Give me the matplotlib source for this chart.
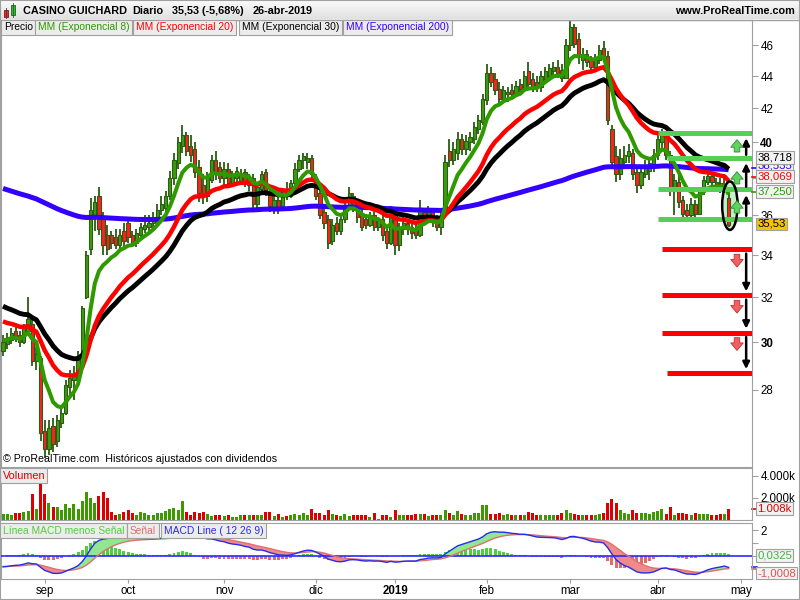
import numpy as np
import pandas as pd
import matplotlib
matplotlib.use('Agg')
import matplotlib.pyplot as plt
from matplotlib.patches import Ellipse, Rectangle
from matplotlib.transforms import blended_transform_factory
from matplotlib.ticker import NullLocator

plt.rcParams['font.family'] = ['Liberation Sans', 'DejaVu Sans']

# daily OHLC, Casino Guichard, 20-aug-2018 .. 26-apr-2019
opens = [29.6, 29.9, 30.1, 30.5, 30.3, 30.0, 30.5, 30.8, 29.2, 29.3,
         26.4, 25.7, 26.6, 26.0, 26.7, 27.1, 28.1, 28.4, 28.6, 29.4,
         32.0, 34.3, 35.9, 37.0, 35.8, 35.0, 35.0, 34.9, 34.5, 35.2,
         35.6, 35.0, 34.6, 35.0, 35.3, 35.4, 35.6, 35.8, 36.3, 36.4,
         37.0, 38.0, 38.8, 39.8, 40.4, 39.8, 39.6, 38.6, 37.6, 37.0,
         37.9, 39.0, 38.6, 38.0, 38.5, 37.7, 38.0, 37.8, 38.3, 37.6,
         38.0, 36.6, 37.4, 38.3, 37.2, 36.4, 36.8, 36.5, 37.3, 37.0,
         37.7, 38.5, 39.0, 38.9, 39.1, 38.0, 37.2, 36.2, 35.8, 34.7,
         35.6, 35.2, 35.8, 36.5, 37.0, 36.4, 36.0, 35.8, 35.5, 36.0,
         35.4, 35.8, 35.2, 34.6, 36.0, 34.5, 35.3, 35.6, 35.4, 35.3,
         35.0, 36.2, 35.8, 36.2, 35.8, 35.4, 36.2, 39.5, 39.0, 39.4,
         40.2, 39.6, 40.0, 40.2, 40.8, 41.2, 42.5, 44.2, 43.8, 43.2,
         42.6, 42.9, 43.1, 42.9, 43.5, 43.2, 44.3, 43.8, 43.6, 43.3,
         43.8, 44.0, 44.3, 44.6, 44.4, 43.9, 46.0, 47.2, 46.4, 45.0,
         45.4, 45.0, 44.6, 45.0, 45.8, 45.3, 40.8, 39.2, 38.2, 38.9,
         39.2, 39.4, 38.3, 37.6, 38.2, 38.4, 38.7, 39.3, 40.0, 40.3,
         39.3, 37.3, 37.8, 36.8, 36.3, 36.0, 36.6, 36.1, 37.3, 37.8,
         38.1, 37.8, 37.7, 37.4, 36.9]
highs = [30.3, 30.4, 30.6, 30.8, 30.5, 30.8, 32.0, 31.0, 29.8, 29.4,
         26.8, 26.8, 26.9, 27.0, 27.3, 28.4, 28.8, 29.0, 29.6, 31.6,
         34.2, 36.9, 37.0, 37.5, 36.2, 35.5, 35.2, 35.3, 35.3, 35.6,
         35.9, 35.2, 35.3, 35.6, 36.0, 36.0, 36.2, 36.6, 37.0, 37.3,
         38.4, 39.4, 40.3, 41.0, 40.6, 40.4, 40.0, 39.0, 38.2, 38.3,
         39.3, 39.5, 38.9, 38.9, 38.8, 38.4, 38.6, 38.5, 38.5, 38.2,
         38.2, 37.8, 38.4, 38.5, 37.4, 37.0, 37.0, 37.4, 37.8, 37.9,
         38.8, 39.3, 39.4, 39.4, 39.3, 38.2, 37.4, 36.5, 36.0, 35.8,
         35.9, 36.0, 36.8, 37.5, 37.2, 36.8, 36.3, 36.1, 36.2, 36.2,
         35.9, 36.0, 35.4, 36.5, 36.2, 35.6, 35.9, 35.8, 35.6, 35.5,
         36.8, 36.4, 36.5, 36.4, 36.0, 36.2, 39.3, 40.2, 40.0, 40.6,
         40.5, 40.4, 40.6, 41.2, 41.6, 42.9, 44.8, 44.6, 44.2, 43.6,
         43.4, 43.3, 43.5, 43.7, 43.8, 44.3, 44.9, 44.2, 44.0, 44.3,
         44.6, 44.8, 44.9, 45.0, 44.8, 46.4, 47.6, 47.4, 46.8, 45.8,
         45.7, 45.3, 45.4, 46.0, 46.3, 45.6, 41.0, 39.8, 39.6, 39.8,
         39.9, 39.6, 38.6, 38.6, 39.0, 39.0, 39.6, 40.6, 40.8, 40.5,
         39.5, 38.2, 38.2, 37.0, 36.6, 36.9, 36.8, 37.5, 38.1, 38.4,
         38.3, 38.0, 38.0, 38.2, 37.2]
lows = [29.4, 29.7, 29.9, 30.0, 29.8, 29.9, 30.4, 29.0, 28.8, 26.0,
        25.4, 25.5, 25.6, 25.8, 26.5, 27.0, 27.8, 27.6, 28.4, 29.3,
        31.9, 34.0, 35.2, 35.0, 34.0, 34.0, 34.3, 34.3, 34.2, 34.4,
        34.6, 34.4, 34.4, 34.8, 35.1, 35.2, 35.3, 35.6, 36.0, 35.8,
        36.8, 37.6, 38.5, 39.4, 39.2, 38.9, 38.0, 36.7, 36.6, 36.7,
        37.7, 37.9, 37.7, 37.6, 37.5, 37.5, 37.8, 37.6, 37.5, 37.3,
        36.3, 36.4, 37.2, 37.0, 36.2, 36.1, 36.1, 36.3, 36.8, 36.9,
        37.5, 38.3, 38.5, 38.5, 37.8, 36.8, 35.8, 35.3, 34.3, 34.5,
        35.0, 35.0, 35.6, 36.3, 36.2, 35.6, 35.2, 35.3, 35.4, 35.2,
        35.2, 34.7, 34.3, 34.5, 34.0, 34.2, 35.0, 35.0, 34.8, 34.8,
        34.9, 35.5, 35.6, 35.4, 35.2, 35.0, 36.0, 38.6, 38.7, 39.0,
        39.3, 39.3, 39.5, 39.9, 40.5, 41.0, 42.2, 43.3, 42.8, 42.2,
        42.3, 42.4, 42.6, 42.7, 42.9, 43.0, 43.2, 43.0, 43.0, 43.0,
        43.6, 43.8, 43.9, 43.9, 43.6, 43.8, 45.6, 45.8, 44.8, 44.4,
        44.6, 44.3, 44.3, 44.8, 44.9, 41.0, 38.6, 37.8, 37.9, 38.5,
        38.8, 37.9, 37.2, 37.4, 38.0, 37.9, 38.3, 39.0, 39.6, 39.0,
        37.0, 36.0, 36.4, 35.9, 35.8, 35.8, 35.8, 36.0, 37.1, 37.6,
        37.5, 37.3, 37.2, 37.2, 35.4]
closes = [30.0, 30.2, 30.4, 30.2, 30.0, 30.6, 31.0, 29.2, 29.5, 26.3,
          25.7, 26.5, 25.9, 26.8, 27.1, 28.2, 28.5, 28.6, 29.4, 31.5,
          34.0, 36.3, 36.7, 35.3, 34.5, 34.3, 34.6, 34.5, 35.0, 34.7,
          34.9, 34.6, 35.1, 35.4, 35.5, 35.6, 35.9, 36.3, 36.6, 37.0,
          38.0, 39.0, 40.0, 40.4, 39.5, 39.3, 38.3, 37.2, 37.0, 38.0,
          39.0, 38.3, 38.0, 38.5, 37.7, 38.1, 38.4, 38.2, 37.7, 38.0,
          36.6, 37.5, 38.2, 37.2, 36.5, 36.8, 36.4, 37.1, 37.0, 37.7,
          38.5, 39.0, 39.2, 39.1, 38.2, 37.0, 36.0, 35.6, 34.6, 35.5,
          35.2, 35.8, 36.5, 37.2, 36.4, 35.9, 35.4, 35.5, 36.0, 35.4,
          35.7, 35.0, 34.6, 36.1, 34.5, 35.3, 35.6, 35.3, 35.1, 35.0,
          36.4, 35.8, 36.2, 35.7, 35.4, 35.9, 38.9, 39.0, 39.6, 40.2,
          39.6, 40.1, 40.3, 40.9, 41.3, 42.6, 44.2, 43.6, 43.1, 42.6,
          43.1, 43.0, 42.9, 43.4, 43.2, 44.0, 43.5, 43.3, 43.3, 44.0,
          44.3, 44.5, 44.6, 44.2, 43.9, 46.0, 47.2, 46.1, 45.2, 45.4,
          44.9, 44.6, 45.1, 45.7, 45.3, 41.3, 38.9, 38.2, 39.1, 39.3,
          39.5, 38.2, 37.6, 38.3, 38.7, 38.8, 39.3, 40.2, 40.4, 39.3,
          37.4, 37.9, 36.7, 36.1, 36.0, 36.6, 36.1, 37.3, 37.9, 38.1,
          37.8, 37.6, 37.5, 37.67, 35.53]
volumes = [550, 550, 460, 640, 600, 760, 820, 2370, 1000, 3340,
           2370, 1550, 1210, 1210, 880, 1460, 1120, 1460, 1000, 1730,
           2520, 2000, 1550, 2180, 2520, 2000, 730, 460, 550, 730,
           880, 640, 460, 730, 640, 460, 430, 640, 640, 820,
           1000, 1090, 910, 1730, 730, 430, 730, 640, 730, 550,
           360, 430, 430, 360, 460, 250, 250, 430, 430, 430,
           430, 430, 430, 730, 730, 360, 550, 250, 360, 430,
           550, 430, 640, 430, 1000, 640, 640, 430, 880, 550,
           460, 360, 550, 360, 430, 430, 430, 460, 250, 640,
           120, 430, 430, 250, 880, 430, 430, 430, 430, 520,
           520, 520, 330, 430, 430, 430, 910, 670, 430, 820,
           520, 430, 430, 610, 670, 1340, 1400, 520, 520, 610,
           430, 520, 430, 430, 430, 430, 760, 670, 430, 430,
           430, 430, 430, 430, 670, 910, 670, 520, 430, 430,
           430, 430, 430, 520, 670, 1580, 1880, 1520, 910, 670,
           520, 910, 610, 670, 670, 520, 760, 820, 1000, 520,
           1210, 430, 610, 670, 520, 430, 670, 520, 520, 520,
           430, 430, 520, 520, 1008]

# moving average start values (history before the visible window)
ema_seeds = {8: 30.1, 20: 31.0, 30: 31.7, 200: 37.5}
macd_seeds = {12: 30.7, 26: 31.6, 'signal': -0.85}

# support / target levels drawn on the right
green_levels = [40.56, 39.13, 37.37, 35.84]
red_levels = [34.28, 32.08, 30.40, 28.68]

month_labels = ['sep', 'oct', 'nov', 'dic', '2019', 'feb', 'mar', 'abr', 'may']
price_ticks = [28, 30, 32, 34, 36, 38, 40, 42, 44, 46]
price_labels = ['28', '30', '32', '34', '36', '', '40', '42', '44', '46']

holidays = ['2018-12-25', '2018-12-26', '2019-01-01', '2019-04-19', '2019-04-22']
dates = pd.bdate_range('2018-08-20', '2019-04-26').drop(pd.to_datetime(holidays))


def ema(values, span, seed):
    s = pd.Series([seed] + list(values))
    return s.ewm(span=span, adjust=False).mean().to_numpy()[1:]


o = np.array(opens)
h = np.array(highs)
l = np.array(lows)
c = np.array(closes)
v = np.array(volumes)
idx = np.arange(len(c))
up = c >= o

GREEN = '#3c9c0c'
RED = '#ff2020'
DARK = '#2b5c14'
GREY = '#a0a0a0'
SMALL = 7.4

fig = plt.figure(figsize=(8, 6), dpi=100)
W, H = 800.0, 600.0


def frac(x0, y0, x1, y1):
    return [x0 / W, 1 - y1 / H, (x1 - x0) / W, (y1 - y0) / H]


def tag(fc='#f2f2f2'):
    return dict(boxstyle='square,pad=0.12', fc=fc, ec=GREY, lw=0.8)


xlim = (-0.48, 179.6)

# ---- header
axh = fig.add_axes([0, 1 - 19 / H, 1, 19 / H])
grad = np.linspace(0.98, 0.88, 50).reshape(-1, 1)
axh.imshow(grad, aspect='auto', cmap='gray', vmin=0, vmax=1, extent=(0, 800, 19, 0))
axh.set_xlim(0, 800)
axh.set_ylim(19, 0)
axh.axis('off')
axh.add_patch(Rectangle((4, 10), 4, 7, fc='#e03030', ec='#702020', lw=0.6))
axh.plot([6, 6], [8, 18], color='#702020', lw=0.6)
axh.add_patch(Rectangle((11, 5), 4, 10, fc='#30c030', ec='#206020', lw=0.6))
axh.plot([13, 13], [3, 17], color='#206020', lw=0.6)
fig.add_artist(plt.Line2D([0, 1], [1 - 19.5 / H] * 2, color=GREY, lw=1))
for xs, txt in [(23, 'CASINO GUICHARD'), (132, 'Diario'), (172, '35,53 (-5,68%)'), (253, '26-abr-2019')]:
    fig.text(xs / W, 1 - 10.5 / H, txt, fontsize=7.8, fontweight='bold', va='center')
fig.text(795 / W, 1 - 10.5 / H, 'www.ProRealTime.com', fontsize=7.8, fontweight='bold', va='center', ha='right')

# ---- price panel
ax = fig.add_axes(frac(1, 20, 752, 467))
ax.set_yscale('log')
ax.set_ylim(25.06, 47.7)
ax.set_xlim(*xlim)

ax.vlines(idx, l, h, color=DARK, lw=1.3, zorder=2)
ax.bar(idx, np.maximum(np.abs(c - o), 0.05), bottom=np.minimum(o, c), width=0.78,
       color=np.where(up, GREEN, RED), edgecolor=DARK, linewidth=0.8, zorder=3)

ax.plot(idx, ema(c, 200, ema_seeds[200]), color='#3300ff', lw=3.6, zorder=4, solid_capstyle='butt')
ax.plot(idx, ema(c, 30, ema_seeds[30]), color='black', lw=3.5, zorder=5, solid_capstyle='butt')
ax.plot(idx, ema(c, 20, ema_seeds[20]), color='#ff0000', lw=3.2, zorder=6, solid_capstyle='butt')
ax.plot(idx, ema(c, 8, ema_seeds[8]), color='#2e9a00', lw=2.9, zorder=7, solid_capstyle='butt')

green_start = [157.1, 159.2, 157.1, 157.1]
red_start = [158.1, 158.1, 158.1, 159.2]
for lev, x0 in zip(green_levels, green_start):
    ax.hlines(lev, x0, xlim[1], color='#55d055', lw=3.6, zorder=8)
for lev, x0 in zip(red_levels, red_start):
    ax.hlines(lev, x0, xlim[1], color='#ff0000', lw=3.6, zorder=8)

# oval round the last candle
ax.add_patch(Ellipse((174.3, 36.53), 3.7, 2.55, fc='#c8f0c8', ec='none', zorder=1))
ax.add_patch(Ellipse((174.3, 36.53), 3.7, 2.55, fc='none', ec='black', lw=1.8, zorder=9))

# black arrows between levels
xa = 178.2
for a, b in zip(green_levels[1:], green_levels[:-1]):
    ax.annotate('', xy=(xa, b), xytext=(xa, a),
                arrowprops=dict(arrowstyle='-|>', color='black', lw=1.8, mutation_scale=10,
                                shrinkA=2, shrinkB=4), zorder=10)
for a, b in zip(red_levels[:-1], red_levels[1:]):
    ax.annotate('', xy=(xa, b), xytext=(xa, a),
                arrowprops=dict(arrowstyle='-|>', color='black', lw=1.8, mutation_scale=10,
                                shrinkA=3, shrinkB=3), zorder=10)
# small fat arrows
xs_ = 176.0
for lev in green_levels[1:]:
    ax.annotate('', xy=(xs_, lev * 1.026), xytext=(xs_, lev * 1.008),
                arrowprops=dict(arrowstyle='simple,head_length=0.6,head_width=1.0,tail_width=0.45',
                                fc='#5fd35f', ec='#2e8b2e', lw=0.6, mutation_scale=9,
                                shrinkA=0, shrinkB=0), zorder=10)
for lev in red_levels[:-1]:
    ax.annotate('', xy=(xs_, lev * 0.975), xytext=(xs_, lev * 0.993),
                arrowprops=dict(arrowstyle='simple,head_length=0.6,head_width=1.0,tail_width=0.45',
                                fc='#f06060', ec='#c03030', lw=0.6, mutation_scale=9,
                                shrinkA=0, shrinkB=0), zorder=10)

ax.yaxis.tick_right()
ax.yaxis.set_minor_locator(NullLocator())
ax.set_yticks(price_ticks)
ax.set_yticklabels(price_labels)
for lab, t in zip(ax.get_yticklabels(), price_ticks):
    if t % 10 == 0:
        lab.set_fontweight('bold')
ax.tick_params(axis='y', direction='out', length=4, color=GREY, pad=2, labelsize=8.3)
ax.set_xticks([])
for sp in ax.spines.values():
    sp.set_color(GREY)

bt = blended_transform_factory(ax.transAxes, ax.transData)
for val, txt, col, fc in [(38.69, '38,535', '#3300ff', '#f2f2f2'),
                          (39.12, '38,718', 'black', '#f2f2f2'),
                          (38.08, '38,069', '#ff0000', '#f2f2f2'),
                          (37.27, '37,250', '#2e9a00', '#f2f2f2'),
                          (35.56, '35,53', 'black', '#f5c400')]:
    ax.text(1.007, val, txt, transform=bt, fontsize=8.2, color=col, va='center', ha='left',
            bbox=tag(fc), zorder=20, clip_on=False)
for val, col in [(38.535, '#3300ff'), (38.069, '#ff0000'), (37.25, '#2e9a00')]:
    ax.plot([1.0, 1.006], [val, val], transform=bt, color=col, lw=1.2, clip_on=False, zorder=19)

# legend row
leg = [('Precio', 'black'), ('MM (Exponencial 8)', '#2e9a00'), ('MM (Exponencial 20)', '#ff0000'),
       ('MM (Exponencial 30)', 'black'), ('MM (Exponencial 200)', '#3300ff')]
lx = [2, 36, 134, 240, 344]
for (txt, col), x0 in zip(leg, lx):
    fig.text((x0 + 2) / W, 1 - 27.5 / H, txt, fontsize=SMALL, color=col, va='center',
             bbox=dict(boxstyle='square,pad=0.25', fc='#ececec', ec=GREY, lw=0.8))
fig.text(3 / W, 1 - 459 / H, '© ProRealTime.com  Históricos ajustados con dividendos', fontsize=7.7, va='center')

# ---- volume panel
axv = fig.add_axes(frac(1, 468, 752, 520))
axv.bar(idx, v, width=0.72, color=np.where(up, '#3c9a00', '#dd0000'))
axv.set_xlim(*xlim)
axv.set_ylim(0, 4700)
axv.yaxis.tick_right()
axv.set_yticks([2000, 4000])
axv.set_yticklabels(['2.000k', '4.000k'])
axv.tick_params(axis='y', direction='out', length=4, color=GREY, pad=2, labelsize=8.3)
axv.set_xticks([])
for sp in axv.spines.values():
    sp.set_color(GREY)
axv.text(0.002, 0.95, 'Volumen', transform=axv.transAxes, fontsize=SMALL + 0.4, color='#dd0000', va='top',
         bbox=dict(boxstyle='square,pad=0.2', fc='#ececec', ec=GREY, lw=0.8))
bv = blended_transform_factory(axv.transAxes, axv.transData)
axv.plot([1.0, 1.006], [v[-1], v[-1]], transform=bv, color='#dd0000', lw=1.2, clip_on=False)
axv.text(1.007, v[-1], '1.008k', transform=bv, fontsize=8.2, color='#dd0000', va='center',
         bbox=tag(), clip_on=False, zorder=20)

# ---- MACD panel
axm = fig.add_axes(frac(1, 523, 752, 579))
macd = ema(c, 12, macd_seeds[12]) - ema(c, 26, macd_seeds[26])
signal = ema(macd, 9, macd_seeds['signal'])
hist = macd - signal
axm.bar(idx, hist, width=0.7, color=np.where(hist >= 0, '#4fcf3f', '#e46a6a'), zorder=1)
axm.fill_between(idx, macd, signal, where=macd >= signal, interpolate=True, color='#8fe88f', lw=0, zorder=2)
axm.fill_between(idx, macd, signal, where=macd < signal, interpolate=True, color='#ee8a8a', lw=0, zorder=2)
axm.axhline(0, color='#2a2aff', lw=1.2, zorder=3)
axm.plot(idx, signal, color='#e07070', lw=1.0, zorder=4)
axm.plot(idx, macd, color='#2a2aee', lw=1.0, zorder=5)
axm.set_xlim(*xlim)
axm.set_ylim(-1.84, 2.55)
axm.yaxis.tick_right()
axm.set_yticks([-1, 0, 1, 2])
axm.set_yticklabels(['', '', '', '2'])
axm.tick_params(axis='y', direction='out', length=4, color=GREY, pad=2, labelsize=8.3)
for sp in axm.spines.values():
    sp.set_color(GREY)
bm = blended_transform_factory(axm.transAxes, axm.transData)
axm.plot([1.0, 1.006], [macd[-1], macd[-1]], transform=bm, color='#2a2aee', lw=1.2, clip_on=False)
axm.plot([1.0, 1.006], [signal[-1], signal[-1]], transform=bm, color='#e07070', lw=1.2, clip_on=False)
axm.text(1.007, 0.0, '0,0325', transform=bm, fontsize=8.2, color='#3cb83c', va='center',
         bbox=tag(), clip_on=False, zorder=20)
axm.text(1.007, -1.37, '-1,0008', transform=bm, fontsize=8.2, color='#e05050', va='center',
         bbox=tag(), clip_on=False, zorder=20)
mleg = [('Línea MACD menos Señal', '#4fcf3f'), ('Señal', '#e07070'), ('MACD Line ( 12 26 9)', '#2a2aee')]
mx = [1, 128, 162]
for (txt, col), x0 in zip(mleg, mx):
    fig.text((x0 + 2) / W, 1 - 530.5 / H, txt, fontsize=SMALL, color=col, va='center',
             bbox=dict(boxstyle='square,pad=0.25', fc='#ececec', ec=GREY, lw=0.8))

# month ticks
ds = pd.Series(dates)
starts = ds.groupby([ds.dt.year, ds.dt.month]).apply(lambda s: s.index[0]).to_numpy()[1:]
extra = len(pd.bdate_range(dates[-1] + pd.Timedelta(days=1), '2019-05-01'))
tick_pos = list(starts) + [len(dates) - 1 + extra]
axm.set_xticks(tick_pos)
axm.set_xticklabels(month_labels)
for lab, txt in zip(axm.get_xticklabels(), month_labels):
    if txt == '2019':
        lab.set_fontweight('bold')
axm.tick_params(axis='x', direction='out', length=3, color=GREY, pad=1.5, labelsize=8.3)

fig.add_artist(Rectangle((0, 0), 1, 1, transform=fig.transFigure, fill=False, ec=GREY, lw=1.5))
fig.savefig('out.png', dpi=100)
